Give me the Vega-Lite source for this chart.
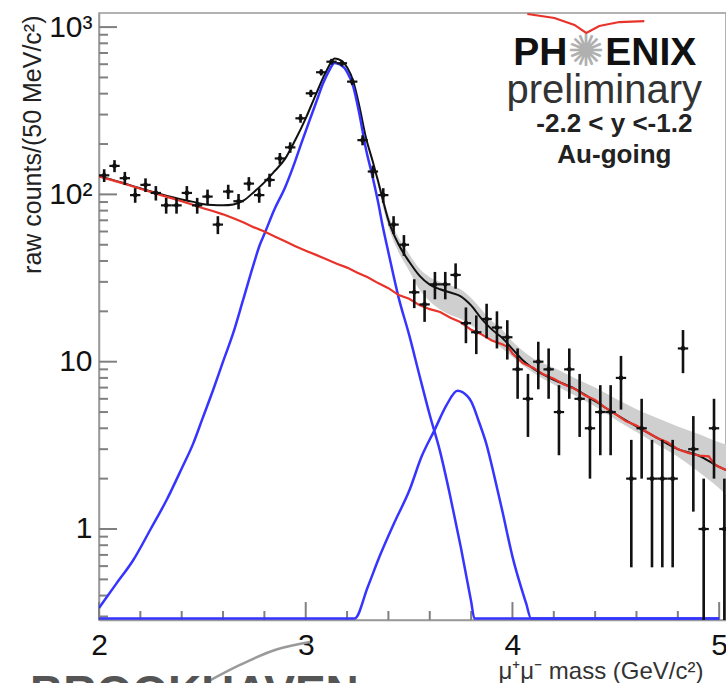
{
"$schema": "https://vega.github.io/schema/vega-lite/v6.json",
"width": 627, "height": 607,
"autosize": {"type": "none"},
"padding": {"left": 99, "top": 13, "right": 0, "bottom": 63},
"background": "white",
"config": {"view": {"stroke": "#999", "strokeWidth": 1.5}, "font": "Liberation Sans"},
"datasets": {
"pts": [
{"m":2.025,"ml":2.0,"mh":2.05,"n":130,"lo":118.6,"hi":141.4},
{"m":2.075,"ml":2.05,"mh":2.1,"n":148,"lo":135.8,"hi":160.2},
{"m":2.125,"ml":2.1,"mh":2.15,"n":125,"lo":113.8,"hi":136.2},
{"m":2.175,"ml":2.15,"mh":2.2,"n":99,"lo":89.1,"hi":108.9},
{"m":2.225,"ml":2.2,"mh":2.25,"n":114,"lo":103.3,"hi":124.7},
{"m":2.275,"ml":2.25,"mh":2.3,"n":102,"lo":91.9,"hi":112.1},
{"m":2.325,"ml":2.3,"mh":2.35,"n":86,"lo":76.7,"hi":95.3},
{"m":2.375,"ml":2.35,"mh":2.4,"n":86,"lo":76.7,"hi":95.3},
{"m":2.425,"ml":2.4,"mh":2.45,"n":102,"lo":91.9,"hi":112.1},
{"m":2.475,"ml":2.45,"mh":2.5,"n":86,"lo":76.7,"hi":95.3},
{"m":2.525,"ml":2.5,"mh":2.55,"n":97,"lo":87.2,"hi":106.8},
{"m":2.575,"ml":2.55,"mh":2.6,"n":66,"lo":57.9,"hi":74.1},
{"m":2.625,"ml":2.6,"mh":2.65,"n":104,"lo":93.8,"hi":114.2},
{"m":2.675,"ml":2.65,"mh":2.7,"n":91,"lo":81.5,"hi":100.5},
{"m":2.725,"ml":2.7,"mh":2.75,"n":116,"lo":105.2,"hi":126.8},
{"m":2.775,"ml":2.75,"mh":2.8,"n":99,"lo":89.1,"hi":108.9},
{"m":2.825,"ml":2.8,"mh":2.85,"n":122,"lo":111.0,"hi":133.0},
{"m":2.875,"ml":2.85,"mh":2.9,"n":164,"lo":151.2,"hi":176.8},
{"m":2.925,"ml":2.9,"mh":2.95,"n":191,"lo":177.2,"hi":204.8},
{"m":2.975,"ml":2.95,"mh":3.0,"n":285,"lo":268.1,"hi":301.9},
{"m":3.025,"ml":3.0,"mh":3.05,"n":402,"lo":382.0,"hi":422.0},
{"m":3.075,"ml":3.05,"mh":3.1,"n":537,"lo":513.8,"hi":560.2},
{"m":3.125,"ml":3.1,"mh":3.15,"n":621,"lo":596.1,"hi":645.9},
{"m":3.175,"ml":3.15,"mh":3.2,"n":608,"lo":583.3,"hi":632.7},
{"m":3.225,"ml":3.2,"mh":3.25,"n":472,"lo":450.3,"hi":493.7},
{"m":3.275,"ml":3.25,"mh":3.3,"n":211,"lo":196.5,"hi":225.5},
{"m":3.325,"ml":3.3,"mh":3.35,"n":137,"lo":125.3,"hi":148.7},
{"m":3.375,"ml":3.35,"mh":3.4,"n":99,"lo":89.1,"hi":108.9},
{"m":3.425,"ml":3.4,"mh":3.45,"n":66,"lo":57.9,"hi":74.1},
{"m":3.475,"ml":3.45,"mh":3.5,"n":50,"lo":42.9,"hi":57.1},
{"m":3.525,"ml":3.5,"mh":3.55,"n":26,"lo":20.9,"hi":31.1},
{"m":3.575,"ml":3.55,"mh":3.6,"n":22,"lo":17.3,"hi":26.7},
{"m":3.625,"ml":3.6,"mh":3.65,"n":29,"lo":23.6,"hi":34.4},
{"m":3.675,"ml":3.65,"mh":3.7,"n":29,"lo":23.6,"hi":34.4},
{"m":3.725,"ml":3.7,"mh":3.75,"n":33,"lo":27.3,"hi":38.7},
{"m":3.775,"ml":3.75,"mh":3.8,"n":17,"lo":12.9,"hi":21.1},
{"m":3.825,"ml":3.8,"mh":3.85,"n":15,"lo":11.1,"hi":18.9},
{"m":3.875,"ml":3.85,"mh":3.9,"n":18,"lo":13.8,"hi":22.2},
{"m":3.925,"ml":3.9,"mh":3.95,"n":16,"lo":12,"hi":20},
{"m":3.975,"ml":3.95,"mh":4.0,"n":14,"lo":10.3,"hi":17.7},
{"m":4.025,"ml":4.0,"mh":4.05,"n":9,"lo":6,"hi":12},
{"m":4.075,"ml":4.05,"mh":4.1,"n":6,"lo":3.55,"hi":8.45},
{"m":4.125,"ml":4.1,"mh":4.15,"n":10,"lo":6.84,"hi":13.16},
{"m":4.175,"ml":4.15,"mh":4.2,"n":9,"lo":6,"hi":12},
{"m":4.225,"ml":4.2,"mh":4.25,"n":5,"lo":2.76,"hi":7.24},
{"m":4.275,"ml":4.25,"mh":4.3,"n":9,"lo":6,"hi":12},
{"m":4.325,"ml":4.3,"mh":4.35,"n":6,"lo":3.55,"hi":8.45},
{"m":4.375,"ml":4.35,"mh":4.4,"n":4,"lo":2,"hi":6},
{"m":4.425,"ml":4.4,"mh":4.45,"n":5,"lo":2.76,"hi":7.24},
{"m":4.475,"ml":4.45,"mh":4.5,"n":5,"lo":2.76,"hi":7.24},
{"m":4.525,"ml":4.5,"mh":4.55,"n":8,"lo":5.17,"hi":10.83},
{"m":4.575,"ml":4.55,"mh":4.6,"n":2,"lo":0.59,"hi":3.41},
{"m":4.625,"ml":4.6,"mh":4.65,"n":4,"lo":2,"hi":6},
{"m":4.675,"ml":4.65,"mh":4.7,"n":2,"lo":0.59,"hi":3.41},
{"m":4.725,"ml":4.7,"mh":4.75,"n":2,"lo":0.59,"hi":3.41},
{"m":4.775,"ml":4.75,"mh":4.8,"n":2,"lo":0.59,"hi":3.41},
{"m":4.825,"ml":4.8,"mh":4.85,"n":12,"lo":8.54,"hi":15.46},
{"m":4.875,"ml":4.85,"mh":4.9,"n":3,"lo":1.27,"hi":4.73},
{"m":4.925,"ml":4.9,"mh":4.95,"n":1,"lo":0.1,"hi":2},
{"m":4.975,"ml":4.95,"mh":5.0,"n":4,"lo":2,"hi":6},
{"m":5.025,"ml":5.0,"mh":5.05,"n":1,"lo":0.1,"hi":2}
],
"bg": [
{"m":2.0,"v":128},{"m":2.05,"v":123},{"m":2.1,"v":118},{"m":2.15,"v":113},{"m":2.2,"v":108},{"m":2.25,"v":103.5},{"m":2.3,"v":99},{"m":2.35,"v":95},{"m":2.4,"v":91},{"m":2.45,"v":87},{"m":2.5,"v":83},{"m":2.55,"v":79.5},{"m":2.6,"v":76},{"m":2.65,"v":72},{"m":2.7,"v":68},{"m":2.75,"v":63.5},{"m":2.8,"v":60},{"m":2.85,"v":56},{"m":2.9,"v":52.5},{"m":2.95,"v":49},{"m":3.0,"v":46},{"m":3.05,"v":43.5},{"m":3.1,"v":41},{"m":3.15,"v":38.5},{"m":3.2,"v":36.5},{"m":3.25,"v":34},{"m":3.3,"v":32},{"m":3.35,"v":29.5},{"m":3.4,"v":27.5},{"m":3.45,"v":25},{"m":3.5,"v":23.8},{"m":3.55,"v":21.8},{"m":3.6,"v":20.6},{"m":3.65,"v":19.8},{"m":3.7,"v":18.3},{"m":3.75,"v":17.2},{"m":3.8,"v":15.5},{"m":3.85,"v":14.6},{"m":3.9,"v":13.4},{"m":3.95,"v":12.7},{"m":3.98,"v":12.2},{"m":4.0,"v":11.2},{"m":4.05,"v":9.8},{"m":4.1,"v":9.2},{"m":4.15,"v":8.4},{"m":4.2,"v":7.9},{"m":4.25,"v":7.3},{"m":4.3,"v":6.9},{"m":4.35,"v":6.3},{"m":4.4,"v":5.9},{"m":4.45,"v":5.3},{"m":4.5,"v":4.85},{"m":4.55,"v":4.4},{"m":4.6,"v":4.15},{"m":4.65,"v":3.8},{"m":4.7,"v":3.5},{"m":4.75,"v":3.3},{"m":4.8,"v":3.0},{"m":4.85,"v":2.85},{"m":4.9,"v":2.75},{"m":4.95,"v":2.72},{"m":4.975,"v":2.45},{"m":5.0,"v":2.35},{"m":5.033,"v":2.25}
],
"jpsi": [
{"m":2.0,"v":0.337},{"m":2.083,"v":0.47},{"m":2.166,"v":0.653},{"m":2.25,"v":1.0},{"m":2.327,"v":1.49},{"m":2.4,"v":2.3},{"m":2.456,"v":3.25},{"m":2.5,"v":4.55},{"m":2.552,"v":6.77},{"m":2.6,"v":10},{"m":2.649,"v":14.8},{"m":2.697,"v":23.4},{"m":2.75,"v":39},{"m":2.778,"v":50},{"m":2.8,"v":58},{"m":2.85,"v":82},{"m":2.9,"v":110},{"m":2.939,"v":146},{"m":2.98,"v":204},{"m":3.019,"v":278},{"m":3.05,"v":354},{"m":3.084,"v":461},{"m":3.11,"v":540},{"m":3.14,"v":610},{"m":3.17,"v":595},{"m":3.2,"v":540},{"m":3.23,"v":440},{"m":3.26,"v":300},{"m":3.29,"v":190},{"m":3.325,"v":125},{"m":3.35,"v":90},{"m":3.373,"v":64},{"m":3.4,"v":45},{"m":3.45,"v":24},{"m":3.5,"v":14.5},{"m":3.55,"v":8.3},{"m":3.6,"v":4.8},{"m":3.65,"v":2.9},{"m":3.7,"v":1.55},{"m":3.75,"v":0.78},{"m":3.8,"v":0.37},{"m":3.816,"v":0.292},{"m":4.5,"v":0.292},{"m":5.0,"v":0.292}
],
"psip": [
{"m":2.0,"v":0.292},{"m":3.237,"v":0.292},{"m":3.3,"v":0.45},{"m":3.357,"v":0.684},{"m":3.43,"v":1.1},{"m":3.502,"v":1.71},{"m":3.56,"v":2.7},{"m":3.623,"v":3.9},{"m":3.681,"v":5.5},{"m":3.734,"v":6.7},{"m":3.783,"v":6.2},{"m":3.8,"v":5.8},{"m":3.84,"v":4.3},{"m":3.873,"v":3.25},{"m":3.913,"v":2.05},{"m":3.95,"v":1.3},{"m":4.0,"v":0.684},{"m":4.066,"v":0.36},{"m":4.09,"v":0.292},{"m":5.0,"v":0.292}
],
"tot": [
{"m":2.0,"v":128.3},{"m":2.1,"v":118.5},{"m":2.2,"v":108.8},{"m":2.3,"v":100.3},{"m":2.4,"v":93.3},{"m":2.45,"v":90.5},{"m":2.5,"v":87.6},{"m":2.55,"v":86.3},{"m":2.6,"v":86},{"m":2.65,"v":87},{"m":2.7,"v":92},{"m":2.75,"v":103.5},{"m":2.8,"v":118},{"m":2.85,"v":138},{"m":2.9,"v":163},{"m":2.95,"v":212},{"m":3.0,"v":285},{"m":3.05,"v":398},{"m":3.1,"v":546},{"m":3.14,"v":649},{"m":3.17,"v":632},{"m":3.2,"v":576},{"m":3.23,"v":475},{"m":3.26,"v":334},{"m":3.29,"v":222},{"m":3.325,"v":156},{"m":3.35,"v":120},{"m":3.373,"v":93},{"m":3.4,"v":70},{"m":3.45,"v":50},{"m":3.5,"v":39.7},{"m":3.55,"v":32.7},{"m":3.6,"v":28.9},{"m":3.65,"v":27.1},{"m":3.7,"v":25.9},{"m":3.75,"v":24.6},{"m":3.8,"v":21.7},{"m":3.85,"v":18.1},{"m":3.9,"v":15.6},{"m":3.95,"v":13.9},{"m":4.0,"v":11.9},{"m":4.05,"v":10.2},{"m":4.1,"v":9.1},{"m":4.2,"v":7.8},{"m":4.3,"v":6.9},{"m":4.4,"v":5.8},{"m":4.5,"v":4.85},{"m":4.6,"v":4.1},{"m":4.7,"v":3.5},{"m":4.8,"v":3.0},{"m":4.9,"v":2.75},{"m":5.0,"v":2.35},{"m":5.033,"v":2.25}
],
"band": [
{"m":3.35,"lo":112,"hi":128},{"m":3.4,"lo":64,"hi":76},{"m":3.45,"lo":45,"hi":55},{"m":3.5,"lo":35,"hi":44},{"m":3.55,"lo":27,"hi":36},{"m":3.6,"lo":23,"hi":32},{"m":3.65,"lo":20.5,"hi":30},{"m":3.7,"lo":19,"hi":28.5},{"m":3.75,"lo":18,"hi":27},{"m":3.8,"lo":16.5,"hi":24},{"m":3.85,"lo":15,"hi":20.5},{"m":3.9,"lo":13.5,"hi":17.5},{"m":3.95,"lo":12,"hi":15.5},{"m":4.0,"lo":10.7,"hi":13.2},{"m":4.1,"lo":8.6,"hi":10.5},{"m":4.2,"lo":7.3,"hi":9.2},{"m":4.3,"lo":6.3,"hi":8.0},{"m":4.4,"lo":5.4,"hi":7.0},{"m":4.5,"lo":4.5,"hi":6.0},{"m":4.6,"lo":3.8,"hi":5.2},{"m":4.7,"lo":3.2,"hi":4.6},{"m":4.8,"lo":2.7,"hi":4.1},{"m":4.9,"lo":2.2,"hi":3.7},{"m":5.0,"lo":1.75,"hi":3.3},{"m":5.033,"lo":1.6,"hi":3.2}
],
"swoosh": [
{"m":4.072,"v":1197},{"m":4.203,"v":1133},{"m":4.3,"v":1030},{"m":4.357,"v":923},{"m":4.42,"v":1016},{"m":4.517,"v":1072},{"m":4.638,"v":1087}
],
"bnlarc": [
{"m":2.513,"v":0.12},{"m":2.682,"v":0.154},{"m":2.851,"v":0.189},{"m":3.021,"v":0.211}
],
"ymaj": [{"v":1},{"v":10},{"v":100},{"v":1000}],
"ymin": [{"v":0.3},{"v":0.4},{"v":0.5},{"v":0.6},{"v":0.7},{"v":0.8},{"v":0.9},{"v":2},{"v":3},{"v":4},{"v":5},{"v":6},{"v":7},{"v":8},{"v":9},{"v":20},{"v":30},{"v":40},{"v":50},{"v":60},{"v":70},{"v":80},{"v":90},{"v":200},{"v":300},{"v":400},{"v":500},{"v":600},{"v":700},{"v":800},{"v":900}],
"xmaj": [{"m":2},{"m":3},{"m":4},{"m":5}],
"xmin": [{"m":2.2},{"m":2.4},{"m":2.6},{"m":2.8},{"m":3.2},{"m":3.4},{"m":3.6},{"m":3.8},{"m":4.2},{"m":4.4},{"m":4.6},{"m":4.8}]
},
"layer": [
{
"data": {"name": "band"},
"mark": {"type": "area", "color": "#cfcfcf", "clip": true, "interpolate": "monotone"},
"encoding": {
"x": {"field": "m", "type": "quantitative",
"scale": {"domain": [2, 5.033], "nice": false, "zero": false},
"axis": {
"values": [2,3,4,5],
"format": "d",
"ticks": false, "domainColor": "#999", "domainWidth": 1.5, "grid": false,
"labelFont": "Liberation Sans", "labelFontSize": 30, "labelColor": "#111", "labelPadding": 10,
"labelFlush": false, "labelOverlap": false, "labelBaseline": "top",
"title": "μ⁺μ⁻ mass (GeV/c²)", "titleFont": "Liberation Sans", "titleFontSize": 24, "titleFontWeight": "normal",
"titleColor": "#333", "titleAnchor": "end", "titleAlign": "right", "titleX": 604, "titleY": 58, "titleBaseline": "alphabetic"
}},
"y": {"field": "lo", "type": "quantitative",
"scale": {"type": "log", "domain": [0.2858, 1214], "nice": false},
"axis": {
"values": [1,10,100,1000],
"labelExpr": "datum.value==1000 ? '10³' : datum.value==100 ? '10²' : datum.value==10 ? '10' : '1'",
"ticks": false, "domainColor": "#999", "domainWidth": 1.5, "grid": false,
"labelFont": "Liberation Sans", "labelFontSize": 30, "labelColor": "#111", "labelPadding": 7,
"labelFlush": false, "labelOverlap": false, "labelBaseline": "middle", "labelAlign": "right",
"title": "raw counts/(50 MeV/c²)", "titleFont": "Liberation Sans", "titleFontSize": 25, "titleFontWeight": "normal",
"titleColor": "#222", "titleAnchor": "end", "titleAngle": -90, "titleAlign": "right", "titleBaseline": "top", "titleX": -79, "titleY": 2
}},
"y2": {"field": "hi"}
}
},
{
"data": {"name": "ymaj"},
"mark": {"type": "rule", "color": "#808080", "strokeWidth": 2},
"encoding": {"x": {"datum": 2, "type": "quantitative"}, "x2": {"datum": 2.087}, "y": {"field": "v", "type": "quantitative"}}
},
{
"data": {"name": "ymin"},
"mark": {"type": "rule", "color": "#808080", "strokeWidth": 2},
"encoding": {"x": {"datum": 2, "type": "quantitative"}, "x2": {"datum": 2.0435}, "y": {"field": "v", "type": "quantitative"}}
},
{
"data": {"name": "xmaj"},
"mark": {"type": "rule", "color": "#808080", "strokeWidth": 2},
"encoding": {"x": {"field": "m", "type": "quantitative"}, "y": {"datum": 0.2858, "type": "quantitative"}, "y2": {"datum": 0.366}}
},
{
"data": {"name": "xmin"},
"mark": {"type": "rule", "color": "#808080", "strokeWidth": 2},
"encoding": {"x": {"field": "m", "type": "quantitative"}, "y": {"datum": 0.2858, "type": "quantitative"}, "y2": {"datum": 0.3235}}
},
{
"data": {"name": "tot"},
"mark": {"type": "line", "color": "#111", "strokeWidth": 2, "clip": true, "interpolate": "monotone"},
"encoding": {"x": {"field": "m", "type": "quantitative"}, "y": {"field": "v", "type": "quantitative"}}
},
{
"data": {"name": "jpsi"},
"mark": {"type": "line", "color": "#3535ff", "strokeWidth": 2.5, "clip": true, "interpolate": "monotone"},
"encoding": {"x": {"field": "m", "type": "quantitative"}, "y": {"field": "v", "type": "quantitative"}}
},
{
"data": {"name": "psip"},
"mark": {"type": "line", "color": "#3535ff", "strokeWidth": 2.5, "clip": true, "interpolate": "monotone"},
"encoding": {"x": {"field": "m", "type": "quantitative"}, "y": {"field": "v", "type": "quantitative"}}
},
{
"data": {"name": "bg"},
"mark": {"type": "line", "color": "#e8332a", "strokeWidth": 2.2, "clip": true},
"encoding": {"x": {"field": "m", "type": "quantitative"}, "y": {"field": "v", "type": "quantitative"}}
},
{
"data": {"name": "pts"},
"mark": {"type": "rule", "color": "#111", "strokeWidth": 2.6, "clip": true},
"encoding": {"x": {"field": "m", "type": "quantitative"}, "y": {"field": "lo", "type": "quantitative"}, "y2": {"field": "hi"}}
},
{
"data": {"name": "pts"},
"mark": {"type": "rule", "color": "#111", "strokeWidth": 2.2, "clip": true},
"encoding": {"x": {"field": "ml", "type": "quantitative"}, "x2": {"field": "mh"}, "y": {"field": "n", "type": "quantitative"}}
},
{
"data": {"name": "pts"},
"mark": {"type": "point", "shape": "circle", "filled": true, "color": "#111", "opacity": 1, "size": 22, "clip": true},
"encoding": {"x": {"field": "m", "type": "quantitative"}, "y": {"field": "n", "type": "quantitative"}}
},
{
"data": {"name": "swoosh"},
"mark": {"type": "line", "color": "#e8332a", "strokeWidth": 2.2, "clip": true},
"encoding": {"x": {"field": "m", "type": "quantitative"}, "y": {"field": "v", "type": "quantitative"}}
},
{
"data": {"name": "bnlarc"},
"mark": {"type": "line", "color": "#9a9a9a", "strokeWidth": 2.5, "interpolate": "monotone"},
"encoding": {"x": {"field": "m", "type": "quantitative"}, "y": {"field": "v", "type": "quantitative"}}
},
{
"data": {"values": [{"m": 1.666, "v": 0.085, "t": "BROOKHAVEN"}]},
"mark": {"type": "text", "font": "Liberation Sans", "fontWeight": "bold", "fontSize": 46, "align": "left", "baseline": "alphabetic", "color": "#555"},
"encoding": {"x": {"field": "m", "type": "quantitative"}, "y": {"field": "v", "type": "quantitative"}, "text": {"field": "t"}}
},
{
"data": {"values": [{"m": 4.266, "v": 593, "t": "PH"}]},
"mark": {"type": "text", "font": "Liberation Sans", "fontWeight": "bold", "fontSize": 39, "align": "right", "baseline": "alphabetic", "color": "#111"},
"encoding": {"x": {"field": "m", "type": "quantitative"}, "y": {"field": "v", "type": "quantitative"}, "text": {"field": "t"}}
},
{
"data": {"values": [{"m": 4.449, "v": 593, "t": "ENIX"}]},
"mark": {"type": "text", "font": "Liberation Sans", "fontWeight": "bold", "fontSize": 39, "align": "left", "baseline": "alphabetic", "color": "#111"},
"encoding": {"x": {"field": "m", "type": "quantitative"}, "y": {"field": "v", "type": "quantitative"}, "text": {"field": "t"}}
},
{
"data": {"values": [{"m": 4.357, "v": 700, "t": "✺"}]},
"mark": {"type": "text", "font": "DejaVu Sans", "fontSize": 44, "align": "center", "baseline": "middle", "color": "#b0b0b0"},
"encoding": {"x": {"field": "m", "type": "quantitative"}, "y": {"field": "v", "type": "quantitative"}, "text": {"field": "t"}}
},
{
"data": {"values": [{"m": 4.444, "v": 352, "t": "preliminary"}]},
"mark": {"type": "text", "font": "Liberation Sans", "fontSize": 40, "align": "center", "baseline": "alphabetic", "color": "#333"},
"encoding": {"x": {"field": "m", "type": "quantitative"}, "y": {"field": "v", "type": "quantitative"}, "text": {"field": "t"}}
},
{
"data": {"values": [{"m": 4.493, "v": 236, "t": "-2.2 < y <-1.2"}, {"m": 4.493, "v": 154, "t": "Au-going"}]},
"mark": {"type": "text", "font": "Liberation Sans", "fontWeight": "bold", "fontSize": 26, "align": "center", "baseline": "alphabetic", "color": "#222"},
"encoding": {"x": {"field": "m", "type": "quantitative"}, "y": {"field": "v", "type": "quantitative"}, "text": {"field": "t"}}
}
]
}
